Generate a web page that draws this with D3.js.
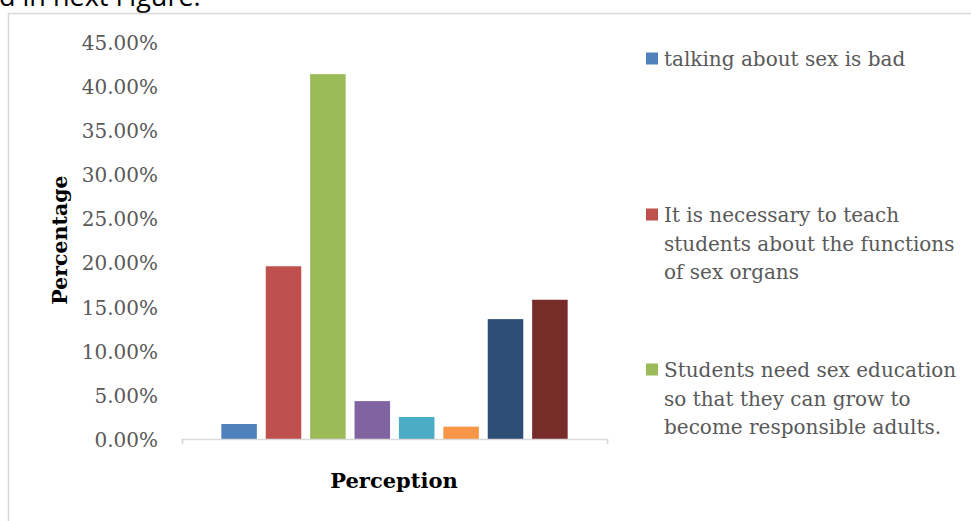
<!DOCTYPE html>
<html>
<head>
<meta charset="utf-8">
<script src="https://cdn.jsdelivr.net/npm/d3@7"></script>
<style>
  html, body { margin: 0; padding: 0; background: #fff; }
  svg { display: block; }
</style>
</head>
<body>
<svg id="chart" width="971" height="521"></svg>
<script>
// Share of respondents for each perception statement
const seriesValues = [0.017, 0.196, 0.414, 0.043, 0.025, 0.014, 0.136, 0.158];
const seriesColors = ["#4f81bd", "#c0504d", "#9bbb59", "#8064a2", "#4bacc6", "#f79646", "#2c4d75", "#772c2a"];
// Legend entries (wrapped as laid out beside the plot)
const legendLines = [
  ["talking about sex is bad"],
  ["It is necessary to teach", "students about the functions", "of sex organs"],
  ["Students need sex education", "so that they can grow to", "become responsible adults."]
];
const yTickValues = [0, 0.05, 0.10, 0.15, 0.20, 0.25, 0.30, 0.35, 0.40, 0.45];
const yTitle = "Percentage";
const xTitle = "Perception";
const captionFragment = "d in next Figure.";

const svg = d3.select("#chart");
const serif = "'DejaVu Serif', serif";
const grey = "#595959";

// Running text of the page above the chart frame
svg.append("text")
  .attr("x", -1).attr("y", 6)
  .attr("font-family", "'Open Sans', sans-serif")
  .attr("font-size", 27)
  .attr("fill", "#000")
  .text(captionFragment);

// Chart frame
svg.append("path")
  .attr("d", "M8.5,530 V13.5 H975")
  .attr("fill", "none")
  .attr("stroke", "#d9d9d9")
  .attr("stroke-width", 1.5);

const plot = { left: 182, right: 607, top: 42.4, bottom: 439 };

const x = d3.scaleBand()
  .domain(d3.range(seriesValues.length))
  .range([plot.left, plot.right])
  .paddingInner(0.2)
  .paddingOuter(0.886);

const y = d3.scaleLinear()
  .domain([0, 0.45])
  .range([plot.bottom, plot.top]);

// Bars
svg.append("g")
  .selectAll("rect")
  .data(seriesValues)
  .join("rect")
  .attr("x", (d, i) => x(i))
  .attr("width", x.bandwidth())
  .attr("y", d => y(d))
  .attr("height", d => y(0) - y(d))
  .attr("fill", (d, i) => seriesColors[i]);

// Category axis (single, unlabeled category)
const xAxis = svg.append("g")
  .attr("transform", `translate(0,${plot.bottom})`)
  .call(d3.axisBottom(d3.scaleLinear().domain([0, 1]).range([plot.left, plot.right]))
    .tickValues([0, 1]).tickSize(5).tickFormat(""));
xAxis.selectAll("path, line").attr("stroke", "#d9d9d9").attr("stroke-width", 1.5);

// Value axis: labels only
const yAxis = svg.append("g")
  .attr("transform", `translate(${plot.left},0)`)
  .call(d3.axisLeft(y).tickValues(yTickValues).tickSize(0).tickPadding(24)
    .tickFormat(d3.format(".2%")));
yAxis.select(".domain").remove();
yAxis.selectAll("text")
  .attr("font-family", serif)
  .attr("font-size", 20)
  .attr("fill", grey)
  .attr("dy", "0.36em");

// Axis titles
svg.append("text")
  .attr("transform", "translate(67,240) rotate(-90)")
  .attr("text-anchor", "middle")
  .attr("font-family", serif)
  .attr("font-weight", "bold")
  .attr("font-size", 20.5)
  .attr("fill", "#000")
  .text(yTitle);

svg.append("text")
  .attr("x", 394).attr("y", 488)
  .attr("text-anchor", "middle")
  .attr("font-family", serif)
  .attr("font-weight", "bold")
  .attr("font-size", 21)
  .attr("fill", "#000")
  .text(xTitle);

// Legend
const legendTop = [59, 215, 370];
const lineStep = 28.5;
const legend = svg.append("g");
legendLines.forEach((lines, i) => {
  const g = legend.append("g");
  g.append("rect")
    .attr("x", 646).attr("y", legendTop[i] - 6.5)
    .attr("width", 12).attr("height", 12)
    .attr("fill", seriesColors[i]);
  const t = g.append("text")
    .attr("font-family", serif)
    .attr("font-size", 20)
    .attr("fill", grey);
  lines.forEach((line, j) => {
    t.append("tspan")
      .attr("x", 664)
      .attr("y", legendTop[i] + j * lineStep)
      .attr("dy", "0.36em")
      .text(line);
  });
});
</script>
</body>
</html>
